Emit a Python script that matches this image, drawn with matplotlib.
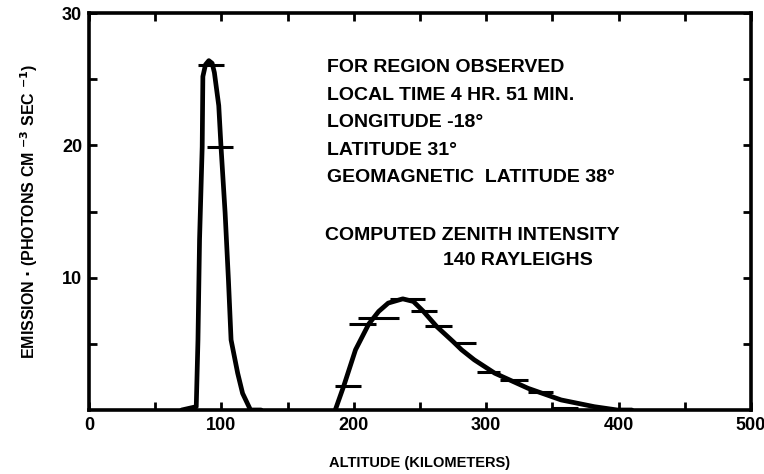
import matplotlib
matplotlib.use("Agg")
import matplotlib.pyplot as plt
from matplotlib import font_manager

# ---- data ----
alt_low = [70, 81, 82.3, 83.5, 85.5, 86, 88, 90.5, 93, 94.7, 98, 99.7, 102.8, 105.3, 107.3, 112.3, 116, 122, 130]
em_low = [0, 0.25, 5.3, 12.9, 19.9, 25.2, 26.1, 26.4, 26.2, 25.5, 23, 19.9, 14.9, 9.85, 5.3, 2.78, 1.26, 0, 0]

alt_high = [186, 192.5, 201.3, 211.3, 218.8, 226, 237, 245, 252.6, 262.6, 275, 281.4, 291, 306.5, 331.6, 356.6, 381.7, 399, 410]
em_high = [0, 1.84, 4.55, 6.5, 7.45, 8.08, 8.4, 8.2, 7.45, 6.31, 5.17, 4.55, 3.79, 2.78, 1.64, 0.76, 0.25, 0, 0]

obs_alt = [92, 99, 195.6, 206.7, 219, 240.7, 253, 263.7, 285, 301.4, 321, 341, 359]
obs_em = [26.1, 19.9, 1.84, 6.5, 6.94, 8.38, 7.45, 6.31, 5.1, 2.9, 2.27, 1.39, 0.15]
obs_halfwidth = [10, 10, 10, 10, 15.5, 13, 9.5, 10.3, 7.5, 8.7, 10.5, 9.5, 10]

x_ticks = [0, 100, 200, 300, 400, 500]
y_ticks = [10, 20, 30]

info_lines = ["FOR REGION OBSERVED", "LOCAL TIME 4 HR. 51 MIN.", "LONGITUDE -18°",
              "LATITUDE 31°", "GEOMAGNETIC  LATITUDE 38°"]
result_lines = ["COMPUTED ZENITH INTENSITY", "140 RAYLEIGHS"]

avail = {f.name for f in font_manager.fontManager.ttflist}
fam = "Liberation Sans Narrow" if "Liberation Sans Narrow" in avail else "Liberation Sans"
plt.rcParams['font.family'] = [fam, 'DejaVu Sans']
plt.rcParams['font.weight'] = 'bold'
plt.rcParams['mathtext.default'] = 'bf'

fig = plt.figure(figsize=(7.64, 4.74), dpi=100)
ax = fig.add_axes([89/764, 64/474, (751-89)/764, (410-13)/474])

ax.plot(alt_low, em_low, color='black', lw=3.4, solid_joinstyle='round', solid_capstyle='round')
ax.plot(alt_high, em_high, color='black', lw=3.4, solid_joinstyle='round', solid_capstyle='round')
ax.errorbar(obs_alt, obs_em, xerr=obs_halfwidth, fmt='none', ecolor='black', elinewidth=2.2, capsize=0)

ax.set_xlim(0, 500)
ax.set_ylim(0, 30)
ax.set_xticks(x_ticks)
ax.set_xticks([50, 150, 250, 350, 450], minor=True)
ax.set_yticks(y_ticks)
ax.set_yticks([5, 15, 25], minor=True)
ax.set_xticklabels([str(v) for v in x_ticks], fontsize=13, fontweight='bold')
ax.set_yticklabels([str(v) for v in y_ticks], fontsize=13, fontweight='bold')
ax.tick_params(which='both', direction='in', length=6, width=2, top=True, right=True, pad=5)
for s in ax.spines.values():
    s.set_linewidth(2.6)

ax.set_xlabel("ALTITUDE (KILOMETERS)", fontsize=10.5, fontweight='bold', labelpad=16)
ax.set_ylabel(r"EMISSION $\cdot$ (PHOTONS CM $^{-3}$ SEC $^{-1}$)", fontsize=11.5, fontweight='bold', labelpad=16)

ys = [25.9, 23.8, 21.7, 19.6, 17.6]
for t, y in zip(info_lines, ys):
    ax.text(180, y, t, fontsize=14, fontweight='bold', va='center', ha='left')
ax.text(178.6, 13.2, result_lines[0], fontsize=14, fontweight='bold', va='center', ha='left')
ax.text(267.6, 11.3, result_lines[1], fontsize=14, fontweight='bold', va='center', ha='left')

fig.savefig("out.png", dpi=100)
